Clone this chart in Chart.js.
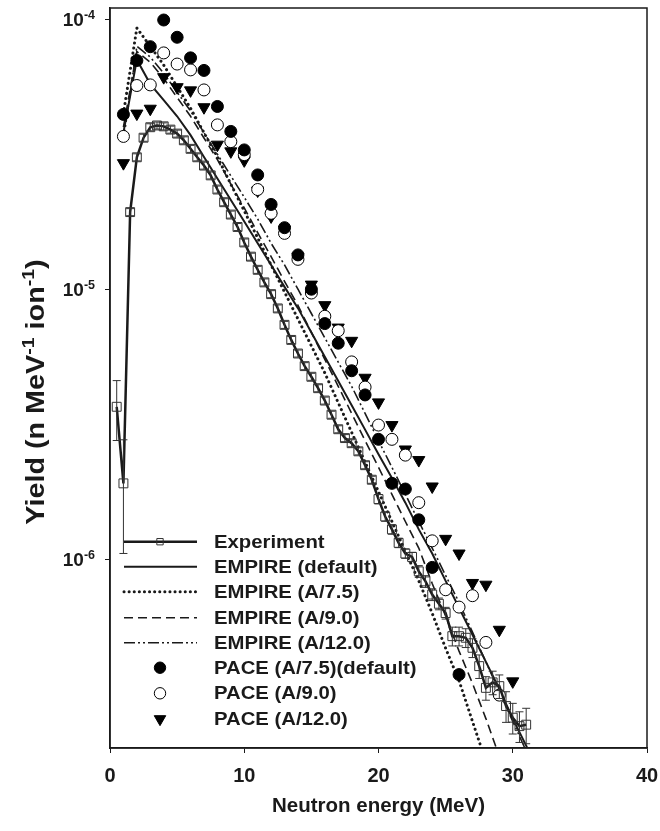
<!DOCTYPE html>
<html>
<head>
<meta charset="utf-8">
<script src="https://cdn.jsdelivr.net/npm/chart.js@4.4.0/dist/chart.umd.min.js"></script>
<style>
  html, body { margin: 0; padding: 0; background: #fff; }
  #wrap { width: 660px; height: 831px; position: relative; }
</style>
</head>
<body>
<div id="wrap"><canvas id="chart1"></canvas></div>
<script>
// Experiment (open squares with error bars)
const expX = [0.5, 1.0, 1.5, 2.0, 2.5, 3.0, 3.5, 4.0, 4.5, 5.0, 5.5, 6.0, 6.5, 7.0, 7.5, 8.0, 8.5, 9.0, 9.5, 10.0,
  10.5, 11.0, 11.5, 12.0, 12.5, 13.0, 13.5, 14.0, 14.5, 15.0, 15.5, 16.0, 16.5, 17.0, 17.5, 18.0, 18.5, 19.0, 19.5, 20.0,
  20.5, 21.0, 21.5, 22.0, 22.5, 23.0, 23.5, 24.0, 24.5, 25.0, 25.5, 26.0, 26.5, 27.0, 27.5, 28.0, 28.5, 29.0, 29.5, 30.0,
  30.5, 31.0];
const expY = [3.67e-6, 1.91e-6, 1.93e-5, 3.08e-5, 3.64e-5, 3.98e-5, 4.04e-5, 4.01e-5, 3.90e-5, 3.77e-5, 3.56e-5, 3.31e-5,
  3.08e-5, 2.87e-5, 2.64e-5, 2.34e-5, 2.10e-5, 1.89e-5, 1.70e-5, 1.49e-5, 1.32e-5, 1.18e-5, 1.06e-5, 9.59e-6, 8.49e-6,
  7.38e-6, 6.49e-6, 5.78e-6, 5.19e-6, 4.74e-6, 4.30e-6, 3.87e-6, 3.43e-6, 3.03e-6, 2.81e-6, 2.69e-6, 2.51e-6, 2.23e-6,
  1.97e-6, 1.67e-6, 1.44e-6, 1.29e-6, 1.15e-6, 1.05e-6, 1.02e-6, 9.02e-7, 8.28e-7, 7.40e-7, 6.84e-7, 6.32e-7, 5.19e-7,
  5.19e-7, 5.12e-7, 4.70e-7, 4.02e-7, 3.34e-7, 3.50e-7, 3.39e-7, 2.86e-7, 2.59e-7, 2.41e-7, 2.44e-7];
// relative uncertainty of each experimental point
const expErr = [0.25, 0.45, 0.03, 0.03, 0.03, 0.03, 0.03, 0.03, 0.03, 0.03, 0.03, 0.03, 0.03, 0.03, 0.03, 0.03, 0.03,
  0.03, 0.03, 0.03, 0.03, 0.03, 0.03, 0.03, 0.03, 0.03, 0.03, 0.03, 0.03, 0.03, 0.03, 0.03, 0.03, 0.03, 0.03, 0.03,
  0.03, 0.03, 0.03, 0.04, 0.04, 0.04, 0.04, 0.04, 0.04, 0.05, 0.05, 0.05, 0.05, 0.05, 0.08, 0.08, 0.08, 0.08, 0.10,
  0.10, 0.10, 0.10, 0.13, 0.13, 0.13, 0.15];

// EMPIRE calculations
const empireX = [1, 2, 3, 4, 5, 6, 7, 8, 9, 10, 11, 12, 13, 14, 15, 16, 17, 18, 19, 20, 21, 22, 23, 24, 25, 26, 27, 28,
  29, 30, 31, 32];
const empireDefault = [3.80e-5, 7.08e-5, 5.75e-5, 5.01e-5, 4.37e-5, 3.72e-5, 3.09e-5, 2.57e-5, 2.14e-5, 1.78e-5, 1.48e-5,
  1.23e-5, 1.02e-5, 8.51e-6, 6.92e-6, 5.62e-6, 4.57e-6, 3.72e-6, 3.02e-6, 2.45e-6, 2.00e-6, 1.62e-6, 1.29e-6, 1.05e-6,
  8.32e-7, 6.61e-7, 5.25e-7, 4.17e-7, 3.31e-7, 2.57e-7, 2.04e-7, 1.58e-7];
const empireA75 = [4.47e-5, 9.27e-5, 7.94e-5, 6.76e-5, 5.62e-5, 4.68e-5, 3.80e-5, 3.09e-5, 2.45e-5, 1.95e-5, 1.55e-5,
  1.23e-5, 9.77e-6, 7.76e-6, 6.17e-6, 4.90e-6, 3.80e-6, 2.95e-6, 2.29e-6, 1.78e-6, 1.38e-6, 1.07e-6, 8.32e-7, 6.31e-7,
  4.68e-7, 3.55e-7, 2.51e-7, 1.78e-7];
const empireA90 = [3.98e-5, 7.59e-5, 6.92e-5, 6.03e-5, 5.13e-5, 4.37e-5, 3.63e-5, 3.02e-5, 2.45e-5, 2.00e-5, 1.62e-5,
  1.32e-5, 1.07e-5, 8.71e-6, 6.92e-6, 5.50e-6, 4.37e-6, 3.47e-6, 2.75e-6, 2.19e-6, 1.74e-6, 1.38e-6, 1.10e-6, 8.13e-7,
  6.17e-7, 4.57e-7, 3.47e-7, 2.57e-7, 1.86e-7, 1.35e-7];
const empireA120 = [3.55e-5, 7.94e-5, 7.24e-5, 6.31e-5, 5.37e-5, 4.57e-5, 3.80e-5, 3.16e-5, 2.63e-5, 2.19e-5, 1.82e-5,
  1.48e-5, 1.23e-5, 1.00e-5, 8.13e-6, 6.61e-6, 5.37e-6, 4.37e-6, 3.47e-6, 2.75e-6, 2.19e-6, 1.74e-6, 1.38e-6, 1.10e-6,
  8.71e-7, 6.92e-7, 5.37e-7, 4.17e-7, 3.24e-7, 2.51e-7, 1.95e-7];

// PACE calculations
const paceX = [1, 2, 3, 4, 5, 6, 7, 8, 9, 10, 11, 12, 13, 14, 15, 16, 17, 18, 19, 20, 21, 22, 23, 24, 25, 26, 27, 28, 29, 30];
const paceA75 = [4.44e-5, 7.03e-5, 7.91e-5, 9.93e-5, 8.57e-5, 7.19e-5, 6.46e-5, 4.75e-5, 3.84e-5, 3.28e-5, 2.65e-5,
  2.06e-5, 1.69e-5, 1.34e-5, 1.00e-5, 7.46e-6, 6.31e-6, 4.99e-6, 4.06e-6, 2.78e-6, 1.91e-6, 1.82e-6, 1.40e-6, 9.33e-7,
  null, 3.74e-7];
const paceA90 = [3.68e-5, 5.68e-5, 5.71e-5, 7.50e-5, 6.82e-5, 6.49e-5, 5.47e-5, 4.06e-5, 3.52e-5, 3.15e-5, 2.34e-5,
  1.91e-5, 1.61e-5, 1.29e-5, 9.68e-6, 7.94e-6, 7.02e-6, 5.38e-6, 4.34e-6, 3.14e-6, 2.78e-6, 2.43e-6, 1.62e-6, 1.17e-6,
  7.71e-7, 6.65e-7, 7.33e-7, 4.92e-7, 3.14e-7];
const paceA120 = [2.93e-5, 4.47e-5, 4.66e-5, 6.10e-5, 5.60e-5, 5.45e-5, 4.72e-5, 3.43e-5, 3.24e-5, 3.00e-5, 2.32e-5,
  1.86e-5, 1.66e-5, 1.32e-5, 1.04e-5, 8.73e-6, 7.21e-6, 6.44e-6, 4.70e-6, 3.81e-6, 3.14e-6, 2.55e-6, 2.33e-6, 1.86e-6,
  1.19e-6, 1.05e-6, 8.17e-7, 8.05e-7, 5.48e-7, 3.53e-7];

const yTicks = [1e-6, 1e-5, 1e-4];
const xTicks = [0, 10, 20, 30, 40];

function pts(xs, ys) {
  const out = [];
  ys.forEach((v, i) => { if (v !== null) out.push({ x: xs[i], y: v }); });
  return out;
}

const INK = '#1a1a1a';
const FONT = '"Liberation Sans", Arial, sans-serif';

const datasets = [
  { label: 'Experiment', data: pts(expX, expY), showLine: true, borderColor: INK, borderWidth: 2.5,
    pointStyle: 'rect', pointRadius: 6.3, pointBorderWidth: 1, pointBorderColor: '#333',
    pointBackgroundColor: 'rgba(0,0,0,0)', order: 1 },
  { label: 'EMPIRE (default)', data: pts(empireX, empireDefault), showLine: true, borderColor: INK, borderWidth: 2,
    pointRadius: 0, order: 5 },
  { label: 'EMPIRE (A/7.5)', data: pts(empireX, empireA75), showLine: true, borderColor: INK, borderWidth: 3,
    borderDash: [0.1, 5], borderCapStyle: 'round', pointRadius: 0, order: 6 },
  { label: 'EMPIRE (A/9.0)', data: pts(empireX, empireA90), showLine: true, borderColor: INK, borderWidth: 1.6,
    borderDash: [9, 5], pointRadius: 0, order: 7 },
  { label: 'EMPIRE (A/12.0)', data: pts(empireX, empireA120), showLine: true, borderColor: INK, borderWidth: 1.6,
    borderDash: [11, 3, 2, 3, 2, 3], pointRadius: 0, order: 8 },
  { label: 'PACE (A/7.5)(default)', data: pts(paceX, paceA75), showLine: false, pointStyle: 'circle', pointRadius: 6,
    pointBackgroundColor: '#000', pointBorderColor: '#000', pointBorderWidth: 1, order: 2 },
  { label: 'PACE (A/9.0)', data: pts(paceX, paceA90), showLine: false, pointStyle: 'circle', pointRadius: 6,
    pointBackgroundColor: '#fff', pointBorderColor: '#000', pointBorderWidth: 1, order: 3 },
  { label: 'PACE (A/12.0)', data: pts(paceX, paceA120), showLine: false, pointStyle: 'triangle', rotation: 180,
    pointRadius: 7, pointBackgroundColor: '#000', pointBorderColor: '#000', pointBorderWidth: 1, order: 4 }
];

// error bars, frame, y labels with superscripts, y title and in-plot legend
const decor = {
  id: 'decor',
  afterDatasetsDraw(chart) {
    const { ctx, scales: { x, y }, chartArea: a } = chart;
    ctx.save();
    ctx.beginPath();
    ctx.rect(a.left, a.top, a.right - a.left, a.bottom - a.top);
    ctx.clip();
    ctx.strokeStyle = '#333';
    ctx.lineWidth = 1;
    expX.forEach((xv, i) => {
      const px = x.getPixelForValue(xv);
      const lo = y.getPixelForValue(expY[i] * (1 - expErr[i]));
      const hi = y.getPixelForValue(expY[i] * (1 + expErr[i]));
      ctx.beginPath();
      ctx.moveTo(px, lo); ctx.lineTo(px, hi);
      ctx.moveTo(px - 4, lo); ctx.lineTo(px + 4, lo);
      ctx.moveTo(px - 4, hi); ctx.lineTo(px + 4, hi);
      ctx.stroke();
    });
    ctx.restore();
  },
  afterDraw(chart) {
    const { ctx, scales: { y }, chartArea: a } = chart;
    ctx.save();
    // frame
    ctx.strokeStyle = INK;
    ctx.lineWidth = 1.5;
    ctx.strokeRect(a.left, a.top, a.right - a.left, a.bottom - a.top);

    // y tick labels 10^n
    ctx.fillStyle = INK;
    ctx.textBaseline = 'alphabetic';
    yTicks.forEach(v => {
      const py = y.getPixelForValue(v);
      const exp = String(Math.round(Math.log10(v)));
      ctx.font = 'bold 12.5px ' + FONT;
      const ew = ctx.measureText(exp).width;
      ctx.textAlign = 'right';
      ctx.fillText(exp, 95, py);
      ctx.font = 'bold 19px ' + FONT;
      ctx.fillText('10', 95 - ew, py + 7);
    });

    // y title
    ctx.translate(44, 392);
    ctx.rotate(-Math.PI / 2);
    ctx.scale(1.15, 1);
    const parts = [['Yield (n MeV', 25, 0], ['-1', 17, -10], [' ion', 25, 0], ['-1', 17, -10], [')', 25, 0]];
    let tw = 0;
    parts.forEach(p => { ctx.font = 'bold ' + p[1] + 'px ' + FONT; tw += ctx.measureText(p[0]).width; });
    let cx = -tw / 2;
    ctx.textAlign = 'left';
    parts.forEach(p => {
      ctx.font = 'bold ' + p[1] + 'px ' + FONT;
      ctx.fillText(p[0], cx, p[2]);
      cx += ctx.measureText(p[0]).width;
    });
    ctx.setTransform(1, 0, 0, 1, 0, 0);

    // legend
    const rowY = [541.7, 566.7, 591.7, 617.7, 642.7, 667.7, 693.3, 719];
    const x0 = 124, x1 = 197, mx = 160, tx = 214;
    chart.data.datasets.forEach((ds, i) => {
      const ry = rowY[i];
      if (ds.showLine) {
        ctx.save();
        ctx.strokeStyle = ds.borderColor;
        ctx.lineWidth = ds.borderWidth;
        ctx.setLineDash(ds.borderDash || []);
        ctx.lineCap = ds.borderCapStyle || 'butt';
        ctx.beginPath();
        ctx.moveTo(x0, ry); ctx.lineTo(x1, ry);
        ctx.stroke();
        ctx.restore();
      }
      if (ds.pointRadius > 0) {
        ctx.save();
        ctx.fillStyle = ds.pointBackgroundColor;
        ctx.strokeStyle = ds.pointBorderColor;
        ctx.lineWidth = ds.pointBorderWidth;
        Chart.helpers.drawPoint(ctx, {
          pointStyle: ds.pointStyle, radius: i === 0 ? 4.5 : ds.pointRadius * 0.95,
          rotation: ds.rotation || 0, borderWidth: ds.pointBorderWidth
        }, mx, ry);
        ctx.restore();
      }
      ctx.save();
      ctx.translate(tx, ry + 1);
      ctx.scale(1.16, 1);
      ctx.fillStyle = INK;
      ctx.font = 'bold 17.5px ' + FONT;
      ctx.textAlign = 'left';
      ctx.textBaseline = 'middle';
      ctx.fillText(ds.label, 0, 0);
      ctx.restore();
    });
    ctx.restore();
  }
};

const ctx1 = document.getElementById('chart1').getContext('2d');
new Chart(ctx1, {
  type: 'scatter',
  data: { datasets: datasets },
  plugins: [decor],
  options: {
    responsive: true,
    maintainAspectRatio: false,
    animation: false,
    layout: { padding: { top: 8, right: 13, left: 0, bottom: 0 } },
    plugins: { legend: { display: false }, tooltip: { enabled: false } },
    scales: {
      x: {
        type: 'linear', min: 0, max: 40,
        afterBuildTicks: s => { s.ticks = xTicks.map(v => ({ value: v })); },
        afterFit: s => { s.height = 83; s.paddingLeft = 0; s.paddingRight = 0; },
        grid: { drawOnChartArea: false, tickLength: 5, color: INK },
        border: { color: INK, width: 1.5 },
        ticks: { color: INK, font: { family: FONT, size: 20, weight: 'bold' }, padding: 11, maxRotation: 0 },
        title: { display: true, text: 'Neutron energy (MeV)', color: INK,
          font: { family: FONT, size: 20.5, weight: 'bold' }, padding: { top: 4, bottom: 12 } }
      },
      y: {
        type: 'logarithmic', min: 2e-7, max: 1.1e-4,
        afterBuildTicks: s => { s.ticks = yTicks.map(v => ({ value: v })); },
        afterFit: s => { s.width = 110; s.paddingTop = 0; s.paddingBottom = 0; },
        grid: { drawOnChartArea: false, tickLength: 5, color: INK },
        border: { color: INK, width: 1.5 },
        ticks: { display: false }
      }
    }
  }
});
</script>
</body>
</html>
